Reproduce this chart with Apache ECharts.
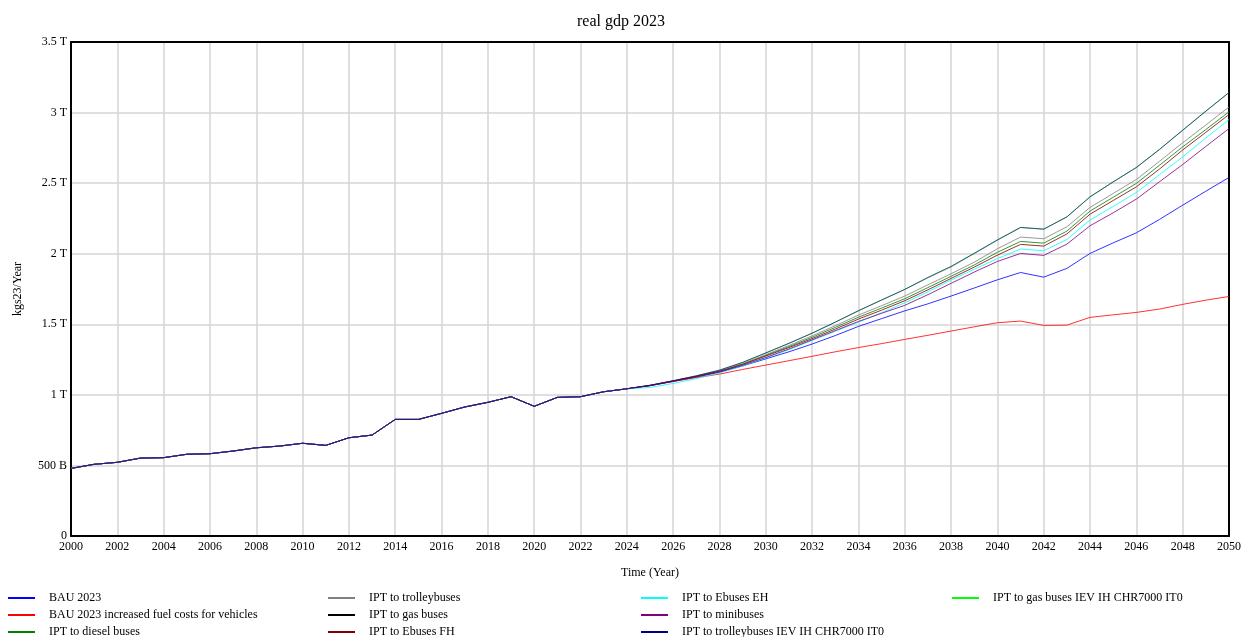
<!DOCTYPE html>
<html>
<head>
<meta charset="utf-8">
<title>real gdp 2023</title>
<script src="https://cdn.jsdelivr.net/npm/echarts@6/dist/echarts.min.js"></script>
<style>
  html, body { margin: 0; padding: 0; background: #fff; }
  #chart { width: 1242px; height: 637px; }
</style>
</head>
<body>
<div id="chart"></div>
<script>
// Years 2000..2050 on the x axis
var years = [];
for (var y = 2000; y <= 2050; y++) years.push(y);

// Shared history 2000..2024 (trillions)
var pastGdp = [0.479, 0.508, 0.522, 0.552, 0.555, 0.579, 0.583, 0.602, 0.625, 0.637,
  0.657, 0.642, 0.696, 0.715, 0.826, 0.826, 0.869, 0.914, 0.947, 0.987,
  0.919, 0.982, 0.987, 1.022, 1.043];

// Scenario paths 2025..2050 (trillions)
var bau = [1.065, 1.095, 1.127, 1.160, 1.205, 1.255, 1.305, 1.360, 1.420, 1.485, 1.540, 1.595, 1.645,
  1.700, 1.757, 1.815, 1.867, 1.834, 1.896, 2.002, 2.077, 2.148, 2.243, 2.344, 2.443, 2.540];
var bauFuel = [1.065, 1.095, 1.122, 1.147, 1.180, 1.211, 1.242, 1.273, 1.305, 1.335, 1.363, 1.393, 1.422,
  1.452, 1.482, 1.511, 1.523, 1.492, 1.494, 1.549, 1.567, 1.584, 1.608, 1.641, 1.671, 1.697];
var diesel = [1.067, 1.099, 1.131, 1.168, 1.218, 1.280, 1.342, 1.408, 1.478, 1.550, 1.615, 1.681, 1.760,
  1.840, 1.920, 2.010, 2.087, 2.075, 2.160, 2.302, 2.400, 2.498, 2.627, 2.757, 2.880, 3.005];
var trolley = [1.067, 1.099, 1.132, 1.170, 1.222, 1.285, 1.350, 1.418, 1.490, 1.565, 1.632, 1.700, 1.780,
  1.858, 1.940, 2.035, 2.118, 2.106, 2.191, 2.328, 2.427, 2.526, 2.655, 2.786, 2.912, 3.040];
var gas = [1.068, 1.100, 1.135, 1.175, 1.230, 1.297, 1.365, 1.437, 1.515, 1.596, 1.672, 1.747, 1.828,
  1.905, 2.000, 2.095, 2.186, 2.174, 2.261, 2.403, 2.509, 2.611, 2.739, 2.875, 3.010, 3.142];
var ebusFH = [1.066, 1.098, 1.130, 1.166, 1.215, 1.275, 1.335, 1.398, 1.466, 1.537, 1.600, 1.667, 1.744,
  1.825, 1.905, 1.990, 2.066, 2.054, 2.140, 2.280, 2.377, 2.474, 2.600, 2.735, 2.860, 2.986];
var ebusEH = [1.052, 1.081, 1.115, 1.155, 1.205, 1.262, 1.320, 1.385, 1.450, 1.515, 1.582, 1.652, 1.730,
  1.813, 1.890, 1.965, 2.033, 2.021, 2.101, 2.238, 2.335, 2.434, 2.560, 2.686, 2.820, 2.951];
var minibus = [1.066, 1.097, 1.128, 1.163, 1.210, 1.265, 1.325, 1.390, 1.455, 1.520, 1.578, 1.634, 1.710,
  1.790, 1.870, 1.945, 2.002, 1.988, 2.068, 2.198, 2.290, 2.387, 2.510, 2.632, 2.760, 2.887];
var trolleyIEV = [1.068, 1.100, 1.135, 1.175, 1.230, 1.297, 1.365, 1.437, 1.515, 1.596, 1.672, 1.747, 1.832,
  1.910, 2.003, 2.098, 2.186, 2.174, 2.261, 2.403, 2.509, 2.611, 2.739, 2.875, 3.010, 3.142];
var gasIEV = [1.068, 1.100, 1.135, 1.175, 1.230, 1.297, 1.365, 1.437, 1.515, 1.596, 1.672, 1.747, 1.832,
  1.910, 2.003, 2.098, 2.186, 2.174, 2.261, 2.403, 2.509, 2.611, 2.739, 2.875, 3.010, 3.142];

var yTickLabels = ['0', '500 B', '1 T', '1.5 T', '2 T', '2.5 T', '3 T', '3.5 T'];

// z / alpha only control how the overlapping lines blend
var seriesDefs = [
  {name: 'BAU 2023', path: bau, color: '#0000ff', z: 2, alpha: 0.8},
  {name: 'BAU 2023 increased fuel costs for vehicles', path: bauFuel, color: '#ff0000', z: 2, alpha: 0.8},
  {name: 'IPT to diesel buses', path: diesel, color: '#008000', z: 2, alpha: 0.8},
  {name: 'IPT to trolleybuses', path: trolley, color: '#808080', z: 2, alpha: 0.8},
  {name: 'IPT to gas buses', path: gas, color: '#000000', z: 0, alpha: 0.25},
  {name: 'IPT to Ebuses FH', path: ebusFH, color: '#800000', z: 2, alpha: 0.8},
  {name: 'IPT to Ebuses EH', path: ebusEH, color: '#00ffff', z: 2, alpha: 0.8},
  {name: 'IPT to minibuses', path: minibus, color: '#800080', z: 2, alpha: 0.8},
  {name: 'IPT to trolleybuses IEV IH CHR7000 IT0', path: trolleyIEV, color: '#000080', z: 3, alpha: 0.6},
  {name: 'IPT to gas buses IEV IH CHR7000 IT0', path: gasIEV, color: '#00ff00', z: 1, alpha: 0.5}
];

var FONT = '"Liberation Serif", "DejaVu Serif", serif';

var chart = echarts.init(document.getElementById('chart'));

var series = seriesDefs.map(function(d) {
  var values = pastGdp.concat(d.path);
  var data = years.map(function(yr, i) { return [yr, values[i]]; });
  return {
    name: d.name,
    type: 'line',
    data: data,
    z: d.z,
    showSymbol: false,
    symbol: 'none',
    color: d.color,
    lineStyle: {width: 1, color: d.color, opacity: d.alpha}
  };
});

function makeLegend(names, left) {
  return {
    orient: 'vertical',
    left: left,
    top: 591,
    height: 120,
    padding: 0,
    itemWidth: 27,
    itemHeight: 2,
    itemGap: 3,
    icon: 'rect',
    data: names,
    textStyle: {fontFamily: FONT, fontSize: 12, color: '#000', padding: [0, 0, 0, 9], lineHeight: 14}
  };
}

var names = seriesDefs.map(function(d) { return d.name; });

var frameLine = {show: true, onZero: false, lineStyle: {color: '#000', width: 2}};

chart.setOption({
  animation: false,
  backgroundColor: '#fff',
  title: {
    text: 'real gdp 2023',
    left: 'center',
    top: 9,
    textStyle: {fontFamily: FONT, fontSize: 16, fontWeight: 'normal', color: '#000'}
  },
  legend: [
    makeLegend(names.slice(0, 3), 8),
    makeLegend(names.slice(3, 6), 328),
    makeLegend(names.slice(6, 9), 641),
    makeLegend(names.slice(9, 10), 952)
  ],
  grid: {
    left: 71,
    right: 13,
    top: 42,
    bottom: 101,
    outerBoundsMode: 'none'
  },
  xAxis: [{
    type: 'value',
    min: 2000,
    max: 2050,
    interval: 2,
    name: 'Time (Year)',
    nameLocation: 'middle',
    nameGap: 31,
    nameTextStyle: {fontFamily: FONT, fontSize: 12, color: '#000'},
    axisLine: frameLine,
    axisTick: {show: false},
    axisLabel: {
      fontFamily: FONT, fontSize: 12, color: '#000', margin: 5,
      formatter: function(v) { return String(v); }
    },
    splitLine: {show: true, lineStyle: {color: '#d4d4d4', width: 1.5}}
  }, {
    type: 'value',
    position: 'top',
    min: 2000,
    max: 2050,
    axisLine: frameLine,
    axisTick: {show: false},
    axisLabel: {show: false},
    splitLine: {show: false}
  }],
  yAxis: [{
    type: 'value',
    min: 0,
    max: 3.5,
    interval: 0.5,
    name: 'kgs23/Year',
    nameLocation: 'middle',
    nameGap: 47,
    nameRotate: 90,
    nameTextStyle: {fontFamily: FONT, fontSize: 12, color: '#000'},
    axisLine: frameLine,
    axisTick: {show: false},
    axisLabel: {
      fontFamily: FONT, fontSize: 12, color: '#000', margin: 4,
      formatter: function(v) { return yTickLabels[Math.round(v / 0.5)]; }
    },
    splitLine: {show: true, lineStyle: {color: '#d4d4d4', width: 1.5}}
  }, {
    type: 'value',
    position: 'right',
    min: 0,
    max: 3.5,
    axisLine: frameLine,
    axisTick: {show: false},
    axisLabel: {show: false},
    splitLine: {show: false}
  }],
  series: series
});
</script>
</body>
</html>
